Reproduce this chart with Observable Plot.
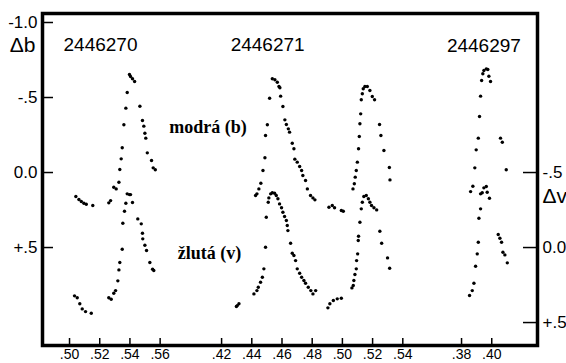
<!DOCTYPE html>
<html><head><meta charset="utf-8">
<script src="https://cdn.jsdelivr.net/npm/d3@7"></script>
<script src="https://cdn.jsdelivr.net/npm/@observablehq/plot@0.6"></script>
<style>body{margin:0;background:#fff;overflow:hidden}#note{position:absolute;left:556px;top:1px;margin:0;font:2px monospace;color:#fff}</style>
</head><body><div id="chart"></div><pre id="note">.</pre>
<script>
// Julian dates of the three nights
const nights = ["2446270", "2446271", "2446297"];
// fractional day ticks per night
const ticksNight1 = [0.50, 0.52, 0.54, 0.56];
const ticksNight2 = [0.42, 0.44, 0.46, 0.48, 0.50, 0.52, 0.54];
const ticksNight3 = [0.38, 0.40];
// left axis (Δb) and right axis (Δv) ticks
const ticksB = [-1.0, -0.5, 0.0, 0.5];
const ticksBLabels = ["-1.0", "-.5", "0.0", "+.5"];
const ticksV = [-0.5, 0.0, 0.5];
const ticksVLabels = ["-.5", "0.0", "+.5"];
const seriesLabels = ["modrá (b)", "žlutá (v)"];

// [fraction of JD, Δmag]
const night1B = [[0.5042,0.160],[0.5062,0.180],[0.5078,0.193],[0.5095,0.205],[0.5111,0.211],[0.5154,0.220],[0.5260,0.202],[0.5272,0.187],[0.5293,0.098],[0.5309,0.109],[0.5327,0.065],[0.5333,-0.020],[0.5342,-0.091],[0.5349,-0.165],[0.5360,-0.318],[0.5373,-0.429],[0.5382,-0.533],[0.5397,-0.653],[0.5404,-0.640],[0.5417,-0.625],[0.5431,-0.607],[0.5466,-0.442],[0.5483,-0.347],[0.5492,-0.309],[0.5499,-0.262],[0.5505,-0.229],[0.5515,-0.131],[0.5543,-0.080],[0.5554,-0.031],[0.5568,-0.018]];
const night1V = [[0.5033,0.322],[0.5051,0.335],[0.5068,0.375],[0.5084,0.409],[0.5106,0.427],[0.5144,0.438],[0.5260,0.335],[0.5276,0.345],[0.5293,0.305],[0.5305,0.287],[0.5320,0.222],[0.5327,0.149],[0.5333,0.100],[0.5349,0.011],[0.5353,-0.162],[0.5364,-0.242],[0.5373,-0.295],[0.5382,-0.358],[0.5397,-0.353],[0.5404,-0.353],[0.5417,-0.300],[0.5452,-0.191],[0.5475,-0.158],[0.5483,-0.095],[0.5485,-0.058],[0.5499,-0.015],[0.5510,0.020],[0.5532,0.100],[0.5550,0.145],[0.5558,0.153]];
const night2B = [[0.4425,0.153],[0.4434,0.142],[0.4447,0.109],[0.4460,0.071],[0.4474,-0.013],[0.4487,-0.098],[0.4491,-0.247],[0.4503,-0.318],[0.4518,-0.495],[0.4536,-0.625],[0.4553,-0.618],[0.4569,-0.602],[0.4580,-0.573],[0.4586,-0.565],[0.4591,-0.509],[0.4606,-0.440],[0.4619,-0.351],[0.4629,-0.320],[0.4642,-0.291],[0.4650,-0.269],[0.4668,-0.195],[0.4679,-0.158],[0.4685,-0.089],[0.4701,-0.069],[0.4717,-0.040],[0.4730,-0.013],[0.4738,0.020],[0.4756,0.053],[0.4768,0.109],[0.4789,0.153],[0.4805,0.169],[0.4818,0.182],[0.4911,0.231],[0.4933,0.220],[0.4948,0.235],[0.4993,0.253],[0.5006,0.258],[0.5070,0.109],[0.5079,0.075],[0.5085,0.031],[0.5092,-0.013],[0.5099,-0.069],[0.5107,-0.158],[0.5112,-0.240],[0.5116,-0.325],[0.5121,-0.391],[0.5125,-0.485],[0.5132,-0.525],[0.5138,-0.558],[0.5149,-0.573],[0.5165,-0.573],[0.5182,-0.547],[0.5198,-0.507],[0.5213,-0.485],[0.5246,-0.320],[0.5255,-0.247],[0.5275,-0.147],[0.5311,-0.033],[0.5315,0.049]];
const night2V = [[0.4298,0.393],[0.4304,0.387],[0.4315,0.375],[0.4414,0.309],[0.4434,0.287],[0.4443,0.265],[0.4458,0.231],[0.4470,0.198],[0.4480,0.142],[0.4491,-0.002],[0.4496,-0.202],[0.4509,-0.302],[0.4513,-0.331],[0.4525,-0.358],[0.4536,-0.365],[0.4551,-0.362],[0.4562,-0.347],[0.4573,-0.325],[0.4584,-0.291],[0.4597,-0.265],[0.4606,-0.235],[0.4617,-0.207],[0.4629,-0.180],[0.4635,-0.147],[0.4639,-0.113],[0.4657,-0.029],[0.4668,0.038],[0.4679,0.053],[0.4690,0.087],[0.4701,0.142],[0.4717,0.171],[0.4730,0.198],[0.4745,0.220],[0.4756,0.238],[0.4774,0.265],[0.4791,0.287],[0.4805,0.309],[0.4823,0.287],[0.4904,0.402],[0.4917,0.375],[0.4940,0.353],[0.4966,0.342],[0.4993,0.338],[0.5063,0.269],[0.5072,0.253],[0.5076,0.220],[0.5083,0.180],[0.5092,0.142],[0.5094,0.087],[0.5101,0.042],[0.5105,-0.047],[0.5107,-0.075],[0.5116,-0.169],[0.5125,-0.258],[0.5132,-0.302],[0.5142,-0.340],[0.5158,-0.347],[0.5172,-0.325],[0.5182,-0.302],[0.5193,-0.280],[0.5209,-0.265],[0.5227,-0.251],[0.5248,-0.109],[0.5260,-0.029],[0.5299,0.069],[0.5313,0.138]];
const night3B = [[0.3888,-0.031],[0.3897,-0.151],[0.3911,-0.229],[0.3919,-0.373],[0.3926,-0.509],[0.3933,-0.613],[0.3941,-0.658],[0.3948,-0.680],[0.3964,-0.691],[0.3974,-0.687],[0.3981,-0.642],[0.3992,-0.607],[0.4058,-0.229],[0.4070,-0.202],[0.4096,-0.018]];
const night3V = [[0.3853,0.320],[0.3871,0.287],[0.3882,0.238],[0.3893,0.125],[0.3904,0.042],[0.3911,-0.035],[0.3915,-0.195],[0.3926,-0.258],[0.3860,-0.373],[0.3875,-0.409],[0.3926,-0.358],[0.3937,-0.365],[0.3948,-0.398],[0.3964,-0.407],[0.3970,-0.369],[0.3985,-0.329],[0.4043,-0.087],[0.4054,-0.062],[0.4065,-0.035],[0.4074,0.031],[0.4087,0.049],[0.4103,0.102]];

// layout: broken x axis — each night is shifted onto one continuous scale
const nightOffset = [0, 0.1807, 0.3796];
const vShift = 0.5; // Δv axis is offset by 0.5 mag from Δb axis

const W = 566, H = 363;
const mL = 42, mR = 29, mT = 13, mB = 18;
const innerW = W - mL - mR, innerH = H - mT - mB;

const bands = [[night1B, night1V], [night2B, night2V], [night3B, night3V]];
const pts = [];
bands.forEach(([b, v], i) => {
  b.forEach(([t, m]) => pts.push({u: t + nightOffset[i], y: m}));
  v.forEach(([t, m]) => pts.push({u: t + nightOffset[i], y: m + vShift}));
});

const xTicks = [];
[ticksNight1, ticksNight2, ticksNight3].forEach((tk, i) =>
  tk.forEach(t => xTicks.push({u: +(t + nightOffset[i]).toFixed(5), label: d3.format(".2f")(t).replace(/^0/, "")})));
const xLabel = new Map(xTicks.map(d => [d.u, d.label]));
const bLabel = new Map(ticksB.map((d, i) => [d, ticksBLabels[i]]));
const vTickPos = ticksV.map(d => d + vShift);
const vLabel = new Map(ticksV.map((d, i) => [d + vShift, ticksVLabels[i]]));

const font = "'Liberation Sans', Arial, sans-serif";
const ink = "#000";

const chart = Plot.plot({
  width: W, height: H,
  marginLeft: mL, marginRight: mR, marginTop: mT, marginBottom: mB,
  style: {fontFamily: font, background: "#fff", color: ink},
  x: {domain: [0.4821, 0.8099]},
  y: {domain: [1.153, -1.06]},
  marks: [
    Plot.frame({stroke: ink, strokeWidth: 3.5}),
    Plot.tickY(ticksB, {y: d => d, insetRight: innerW - 11, stroke: ink, strokeWidth: 1.5}),
    Plot.tickY(vTickPos, {y: d => d, insetLeft: innerW - 14, stroke: ink, strokeWidth: 1.5}),
    Plot.tickX(xTicks, {x: "u", insetTop: innerH - 7, stroke: ink, strokeWidth: 1.5}),
    Plot.dot(pts, {x: "u", y: "y", r: 1.7, fill: ink, stroke: "none"}),
    Plot.axisY(ticksB, {anchor: "left", tickSize: 0, tickPadding: 5, label: null, fontSize: 17, tickFormat: d => bLabel.get(d)}),
    Plot.axisY(vTickPos, {anchor: "right", tickSize: 0, tickPadding: 5, label: null, fontSize: 17, tickFormat: d => vLabel.get(d)}),
    Plot.axisX(xTicks.map(d => d.u), {anchor: "bottom", tickSize: 0, tickPadding: 4, label: null, fontSize: 14, tickFormat: d => xLabel.get(d)}),
    Plot.text([nights[0]], {x: 0.5205, y: -0.853, fontSize: 19, text: d => d}),
    Plot.text([nights[1]], {x: 0.4505 + nightOffset[1], y: -0.853, fontSize: 19, text: d => d}),
    Plot.text([nights[2]], {x: 0.3948 + nightOffset[2], y: -0.845, fontSize: 19, text: d => d}),
    Plot.text([seriesLabels[0]], {x: 0.5917, y: -0.30, fontSize: 18, fontWeight: "bold", fontFamily: "'Liberation Serif', serif", text: d => d}),
    Plot.text([seriesLabels[1]], {x: 0.5927, y: 0.535, fontSize: 18, fontWeight: "bold", fontFamily: "'Liberation Serif', serif", text: d => d}),
    Plot.text(["Δb"], {y: -0.85, frameAnchor: "left", dx: -7, textAnchor: "end", fontSize: 21, text: d => d}),
    Plot.text(["Δv"], {y: 0.155, frameAnchor: "right", dx: 5, textAnchor: "start", fontSize: 21, text: d => d})
  ]
});
document.getElementById("chart").appendChild(chart);
</script>
</body></html>
